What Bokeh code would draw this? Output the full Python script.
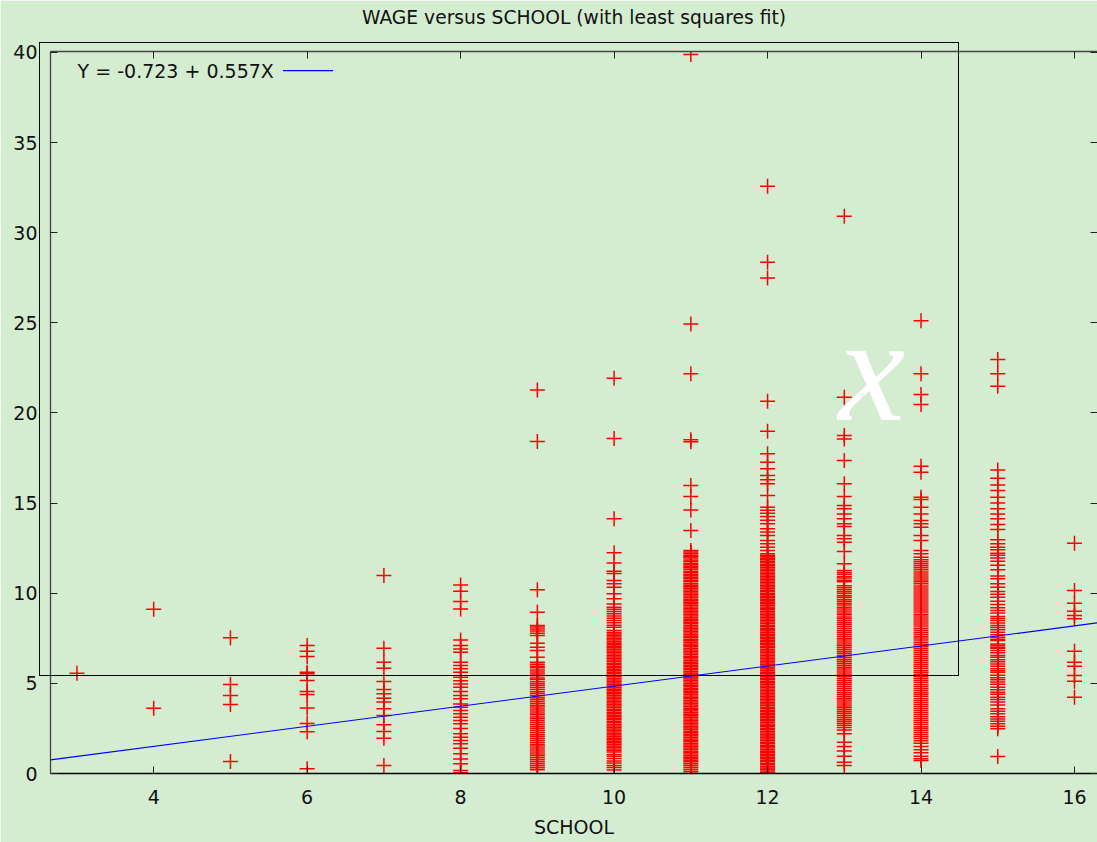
from bokeh.plotting import figure
from bokeh.layouts import column
from bokeh.models import (FixedTicker, LinearAxis, Range1d, Label, Arrow, Div)
from bokeh.embed import file_html
from bokeh.resources import INLINE

TITLE = "WAGE versus SCHOOL (with least squares fit)"
X_LABEL = "SCHOOL"
FIT_INTERCEPT = -0.723
FIT_SLOPE = 0.557
FIT_LABEL = "Y = -0.723 + 0.557X"
X_TICKS = [4, 6, 8, 10, 12, 14, 16]
Y_TICKS = [0, 5, 10, 15, 20, 25, 30, 35, 40]
X_MIN, X_MAX = 2.655, 16.30
Y_MIN, Y_MAX = 0.0, 40.05

wage_s03 = [5.56]
wage_s04 = [9.11, 3.62]
wage_s05 = [7.53, 4.94, 4.33, 3.83, 0.67]
wage_s06 = [7.10, 6.78, 6.49, 5.62, 5.53, 5.16, 4.55, 4.38, 3.63, 2.77, 2.31, 0.26]
wage_s07 = [10.98, 6.95, 6.17, 5.84, 5.10, 4.66, 4.42, 4.18, 3.96, 3.59, 3.22, 2.70, 2.33, 1.96, 0.44]
wage_s08 = [10.46, 10.11, 9.54, 9.13, 7.41, 7.10, 6.91, 6.73, 6.17, 5.99, 5.81, 5.62, 5.34, 5.15, 4.97,
            4.79, 4.55, 4.33, 4.14, 3.86, 3.68, 3.49, 3.31, 3.12, 2.94, 2.76, 2.50, 2.20, 2.01, 1.83,
            1.65, 1.40, 1.09, 0.81, 0.54, 0.17, 0.04]
wage_s09 = [21.28, 18.41, 10.19, 8.95, 8.21, 8.12, 8.01, 7.90, 7.78, 7.66, 7.23, 7.01, 6.82, 6.45, 6.17,
            6.06, 5.95, 5.86, 5.74, 5.63, 5.52, 5.42, 5.30, 5.21, 5.09, 4.98, 4.88, 4.77, 4.66, 4.54,
            4.44, 4.33, 4.22, 4.12, 4.01, 3.90, 3.79, 3.69, 3.58, 3.47, 3.36, 3.26, 3.14, 3.04, 2.93,
            2.82, 2.71, 2.60, 2.50, 2.39, 2.28, 2.17, 2.06, 1.95, 1.85, 1.74, 1.62, 1.52, 1.41, 1.30,
            1.19, 1.08, 0.98, 0.87, 0.76, 0.65, 0.54, 0.43, 0.32, 0.21]
wage_s10 = [21.93, 18.58, 14.13, 12.24, 11.67, 11.22, 11.10, 10.70, 10.52, 10.33, 9.97, 9.69, 9.40, 9.22,
            9.11, 8.98, 8.86, 8.73, 8.61, 8.49, 8.36, 8.23, 8.11, 7.93, 7.82, 7.74, 7.65, 7.57, 7.48,
            7.40, 7.31, 7.23, 7.14, 7.06, 6.97, 6.89, 6.80, 6.72, 6.63, 6.55, 6.46, 6.38, 6.29, 6.21,
            6.12, 6.04, 5.95, 5.87, 5.78, 5.70, 5.61, 5.53, 5.44, 5.36, 5.27, 5.19, 5.10, 5.02, 4.93,
            4.85, 4.76, 4.68, 4.59, 4.51, 4.42, 4.34, 4.25, 4.17, 4.08, 4.00, 3.91, 3.83, 3.74, 3.66,
            3.57, 3.49, 3.40, 3.32, 3.23, 3.15, 3.06, 2.98, 2.89, 2.81, 2.72, 2.64, 2.55, 2.47, 2.38,
            2.30, 2.21, 2.13, 2.04, 1.96, 1.87, 1.79, 1.70, 1.62, 1.53, 1.45, 1.36, 1.28, 1.19, 1.05,
            0.95, 0.83, 0.70, 0.58, 0.45, 0.33, 0.20]
wage_s11 = [39.88, 24.94, 22.17, 18.51, 18.40, 15.97, 15.36, 14.62, 13.48,
            12.37, 12.28, 12.21, 12.10, 12.02, 11.95, 11.84, 11.77, 11.66, 11.58, 11.50, 11.41, 11.33,
            11.22, 11.15, 11.05, 10.97, 10.88, 10.80, 10.71, 10.63, 10.52, 10.44, 10.36, 10.27, 10.18,
            10.10, 10.01, 9.93, 9.85, 9.76, 9.66, 9.58, 9.50, 9.41, 9.33, 9.24, 9.15, 9.07, 8.98, 8.90,
            8.82, 8.73, 8.64, 8.55, 8.47, 8.39, 8.30, 8.21, 8.13, 8.05, 7.96, 7.88, 7.79, 7.70, 7.62,
            7.54, 7.45, 7.36, 7.28, 7.19, 7.11, 7.03, 6.94, 6.85, 6.77, 6.69, 6.60, 6.51, 6.43, 6.35,
            6.26, 6.17, 6.09, 6.00, 5.92, 5.84, 5.75, 5.66, 5.58, 5.50, 5.41, 5.32, 5.24, 5.16, 5.07,
            4.98, 4.90, 4.82, 4.73, 4.64, 4.56, 4.48, 4.39, 4.30, 4.22, 4.14, 4.05, 3.96, 3.88, 3.80,
            3.71, 3.62, 3.54, 3.46, 3.37, 3.28, 3.20, 3.12, 3.03, 2.94, 2.86, 2.78, 2.69, 2.60, 2.52,
            2.44, 2.35, 2.26, 2.18, 2.10, 2.01, 1.92, 1.84, 1.76, 1.67, 1.58, 1.50, 1.42, 1.33, 1.24,
            1.16, 1.08, 0.99, 0.90, 0.82, 0.74, 0.65, 0.56, 0.46, 0.35, 0.24, 0.12, 0.02]
wage_s12 = [32.58, 28.36, 27.49, 20.65, 18.99, 17.73, 17.27, 16.90, 16.53, 16.29, 16.07, 15.42, 14.77,
            14.60, 14.44, 14.25, 14.05, 13.85, 13.57, 13.40, 13.20, 12.92, 12.75, 12.55, 12.37,
            12.19, 12.11, 12.03, 11.94, 11.86, 11.77, 11.69, 11.60, 11.52, 11.44, 11.35, 11.27, 11.18,
            11.10, 11.01, 10.93, 10.85, 10.76, 10.68, 10.59, 10.51, 10.42, 10.34, 10.26, 10.17, 10.09,
            10.00, 9.92, 9.83, 9.75, 9.67, 9.58, 9.50, 9.41, 9.33, 9.24, 9.16, 9.08, 8.99, 8.91, 8.82,
            8.74, 8.65, 8.57, 8.49, 8.40, 8.32, 8.23, 8.15, 8.06, 7.98, 7.90, 7.81, 7.73, 7.64, 7.56,
            7.47, 7.39, 7.31, 7.22, 7.14, 7.05, 6.97, 6.88, 6.80, 6.72, 6.63, 6.55, 6.46, 6.38, 6.29,
            6.21, 6.13, 6.04, 5.96, 5.87, 5.79, 5.70, 5.62, 5.54, 5.45, 5.37, 5.28, 5.20, 5.11, 5.03,
            4.95, 4.86, 4.78, 4.69, 4.61, 4.52, 4.44, 4.36, 4.27, 4.19, 4.10, 4.02, 3.93, 3.85, 3.77,
            3.68, 3.60, 3.51, 3.43, 3.34, 3.26, 3.18, 3.09, 3.01, 2.92, 2.84, 2.75, 2.67, 2.59, 2.50,
            2.42, 2.33, 2.25, 2.16, 2.08, 2.00, 1.91, 1.83, 1.74, 1.66, 1.57, 1.49, 1.41, 1.32, 1.24,
            1.15, 1.07, 0.98, 0.90, 0.82, 0.73, 0.65, 0.56, 0.48, 0.39, 0.31, 0.23, 0.14, 0.06]
wage_s13 = [30.91, 20.87, 18.75, 18.56, 17.36, 16.07, 15.36, 14.86, 14.68, 14.40, 14.13, 13.85, 13.70,
            13.20, 13.02, 12.83, 12.31, 11.63,
            11.26, 11.15, 11.05, 10.93, 10.84, 10.72, 10.63, 10.41, 10.30, 10.19, 10.08, 9.98, 9.86,
            9.77, 9.65, 9.55, 9.44, 9.34, 9.22, 9.12, 9.01, 8.90, 8.80, 8.68, 8.58, 8.47, 8.36, 8.26,
            8.15, 8.04, 7.93, 7.83, 7.72, 7.61, 7.50, 7.40, 7.29, 7.18, 7.08, 6.97, 6.86, 6.75, 6.65,
            6.54, 6.43, 6.33, 6.22, 6.11, 6.00, 5.90, 5.79, 5.68, 5.58, 5.47, 5.36, 5.25, 5.15, 5.04,
            4.93, 4.83, 4.72, 4.61, 4.50, 4.40, 4.29, 4.18, 4.08, 3.97, 3.86, 3.75, 3.65, 3.54, 3.43,
            3.33, 3.22, 3.11, 3.00, 2.90, 2.79, 2.68, 2.55, 2.41, 2.20, 1.74, 1.50, 1.25, 0.95, 0.63,
            0.44]
wage_s14 = [25.12, 22.17, 21.02, 20.47, 17.04, 16.71, 15.33, 15.20, 14.77, 14.40, 14.03, 13.85, 13.66,
            13.20, 12.92, 12.37, 12.19, 12.00,
            11.85, 11.74, 11.63, 11.52, 11.41, 11.30, 11.18, 11.07, 10.96, 10.85, 10.74, 10.63, 10.52,
            10.40, 10.29, 10.18, 10.07, 9.96, 9.85, 9.74, 9.62, 9.51, 9.40, 9.29, 9.18, 9.07, 8.96,
            8.84, 8.73, 8.62, 8.51, 8.40, 8.29, 8.18, 8.06, 7.95, 7.84, 7.73, 7.62, 7.51, 7.40, 7.28,
            7.17, 7.06, 6.95, 6.84, 6.73, 6.62, 6.50, 6.39, 6.28, 6.17, 6.06, 5.95, 5.84, 5.72, 5.61,
            5.50, 5.39, 5.28, 5.17, 5.06, 4.94, 4.83, 4.72, 4.61, 4.50, 4.39, 4.28, 4.16, 4.05, 3.94,
            3.83, 3.72, 3.61, 3.50, 3.38, 3.27, 3.16, 3.05, 2.94, 2.83, 2.72, 2.60, 2.49, 2.38, 2.27,
            2.16, 2.05, 1.94, 1.82, 1.68, 1.50, 1.32, 1.15, 0.95, 0.82, 0.72]
wage_s15 = [22.96, 22.17, 21.48, 16.84, 16.38, 16.01, 15.70, 15.33, 15.01, 14.68, 14.40, 14.13, 13.81,
            13.53, 12.96, 12.74, 12.55, 12.41, 12.22, 12.10, 11.95, 11.78, 11.55, 11.30, 10.95, 10.80,
            10.52, 10.33, 10.10, 9.95, 9.78, 9.55, 9.37, 9.20, 9.04, 8.90, 8.71, 8.60, 8.49, 8.35,
            8.21, 8.10, 7.97, 7.84, 7.70, 7.56, 7.45, 7.38, 7.19, 7.10, 7.01, 6.95, 6.82, 6.70, 6.54,
            6.45, 6.31, 6.20, 6.08, 5.95, 5.81, 5.70, 5.62, 5.45, 5.31, 5.20, 5.07, 4.95, 4.79, 4.65,
            4.51, 4.40, 4.23, 4.10, 3.96, 3.80, 3.59, 3.45, 3.31, 3.15, 3.03, 2.90, 2.76, 2.62, 2.48,
            0.94]
wage_s16 = [12.77, 10.15, 9.45, 9.00, 8.76, 8.58, 6.78, 6.17, 5.95, 5.44, 5.12, 4.23]

school_levels = [3, 4, 5, 6, 7, 8, 9, 10, 11, 12, 13, 14, 15, 16]
wage_lists = [wage_s03, wage_s04, wage_s05, wage_s06, wage_s07, wage_s08, wage_s09,
              wage_s10, wage_s11, wage_s12, wage_s13, wage_s14, wage_s15, wage_s16]

school = []
wage = []
for s, ws in zip(school_levels, wage_lists):
    school.extend([s] * len(ws))
    wage.extend(ws)
marker_colors = ["#ff0000" if i % 2 == 0 else "#fe0000" for i in range(len(wage))]

BG = "#d4ecd0"
FONT = "DejaVu Sans"
FS = "19px"
AXIS_GRAY = "#444444"

# the trailing empty line lifts the title towards the top edge of the page
p = figure(width=1097, height=842, output_backend="svg", toolbar_location=None,
           x_range=Range1d(X_MIN, X_MAX), y_range=Range1d(Y_MIN, Y_MAX),
           min_border_left=50, min_border_right=0, min_border_top=51, min_border_bottom=69,
           background_fill_color=BG, border_fill_color=BG, outline_line_color=None,
           title=TITLE + "\n")
p.grid.visible = False
p.title.align = "center"
p.title.vertical_align = "bottom"
p.title.standoff = 0
p.title.text_line_height = 1.1
p.title.text_font = FONT
p.title.text_font_size = "18.7px"
p.title.text_font_style = "normal"
p.title.text_color = "#111111"

def style_axis(ax, labels=True, ticks=None):
    ax.major_tick_in = 7
    ax.major_tick_out = 0
    ax.minor_tick_in = 0
    ax.minor_tick_out = 0
    ax.major_tick_line_color = "#222222"
    ax.axis_line_color = AXIS_GRAY
    ax.axis_line_width = 1.3
    ax.major_label_text_font = FONT
    ax.major_label_text_color = "#111111"
    ax.major_label_text_font_size = FS
    if not labels:
        ax.major_label_overrides = {t: "" for t in ticks}
        ax.major_label_standoff = 0

p.xaxis.ticker = FixedTicker(ticks=X_TICKS)
p.yaxis.ticker = FixedTicker(ticks=Y_TICKS)
style_axis(p.xaxis[0])
style_axis(p.yaxis[0])
p.xaxis.axis_line_color = "black"
p.xaxis.major_label_standoff = 16
p.yaxis.major_label_standoff = 13
p.xaxis.axis_label = X_LABEL
p.xaxis.axis_label_text_font = FONT
p.xaxis.axis_label_text_font_size = FS
p.xaxis.axis_label_text_font_style = "normal"
p.xaxis.axis_label_text_color = "#111111"
p.xaxis.axis_label_standoff = 9

top_ax = LinearAxis(ticker=FixedTicker(ticks=X_TICKS))
style_axis(top_ax, labels=False, ticks=X_TICKS)
p.add_layout(top_ax, "above")
right_ax = LinearAxis(ticker=FixedTicker(ticks=Y_TICKS))
style_axis(right_ax, labels=False, ticks=Y_TICKS)
right_ax.axis_line_color = None
p.add_layout(right_ax, "right")

# white italic watermark
p.add_layout(Label(x=13.36, y=22.45, text="x", text_font="Liberation Serif",
                   text_font_style="italic", text_font_size="150px", text_color="white",
                   text_align="center", text_baseline="alphabetic"))

p.scatter(school, wage, marker="cross", size=15, line_color=marker_colors, line_width=1.5)

fit_x = [X_MIN, X_MAX]
fit_y = [FIT_INTERCEPT + FIT_SLOPE * v for v in fit_x]
p.line(fit_x, fit_y, line_color="#0000ff", line_width=1.2)

# key: label text followed by a short sample of the fit line
p.add_layout(Label(x=3.008, y=38.99, text=FIT_LABEL, text_font=FONT, text_font_size=FS,
                   text_color="#111111", text_baseline="middle"))
p.add_layout(Arrow(x_start=5.685, y_start=38.99, x_end=6.337, y_end=38.99, start=None, end=None,
                   line_color="#0000ff", line_width=1.2))

# thin black frame drawn over the plot (extends past the axes, so it is an overlay)
frame_box = Div(text="", width=920, height=634, margin=0,
                styles={"position": "absolute", "left": "39px", "top": "42px",
                        "border": "1px solid black", "box-sizing": "border-box",
                        "pointer-events": "none", "background": "transparent"})

page = column(p, frame_box, spacing=0)
open("out.html", "w").write(file_html(page, INLINE))
